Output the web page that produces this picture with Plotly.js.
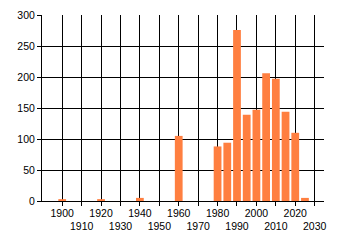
<!DOCTYPE html>
<html>
<head>
<meta charset="utf-8">
<script src="https://cdn.plot.ly/plotly-3.0.1.min.js"></script>
<style>html,body{margin:0;padding:0;background:#fff;}#chart{width:340px;height:245px;}</style>
</head>
<body>
<div id="chart"></div>
<script>
const years = [1900, 1920, 1940, 1960, 1980, 1985, 1990, 1995, 2000, 2005, 2010, 2015, 2020, 2025];
const counts = [3, 3, 5, 105, 88, 94, 276, 139, 147, 206, 197, 144, 110, 5];
const tickYears = [1900, 1910, 1920, 1930, 1940, 1950, 1960, 1970, 1980, 1990, 2000, 2010, 2020, 2030];
const yTicks = [0, 50, 100, 150, 200, 250, 300];

// upper row: 1900, 1920, ... ; lower row: 1910, 1930, ...
const upperText = tickYears.map((y, i) => (i % 2 === 0 ? String(y) : ''));
const lowerVals = tickYears.filter((y, i) => i % 2 === 1);
const lowerText = lowerVals.map(String);

const xRange = [1889.6, 2034.8];

const bars = {
  type: 'bar',
  x: years,
  y: counts,
  width: 4,
  marker: {color: '#FF7F40', line: {width: 0}},
  hoverinfo: 'x+y'
};
const lowerAxisHolder = {type: 'scatter', mode: 'markers', x: [], y: [], xaxis: 'x2', yaxis: 'y', showlegend: false};

const baseX = {
  range: xRange, tickangle: 0, zeroline: false, fixedrange: true,
  tickfont: {family: 'Liberation Sans, Arial, sans-serif', size: 10.5, color: '#000'}
};

const layout = {
  width: 340, height: 245,
  margin: {l: 42, r: 16, t: 15, b: 44, pad: 0},
  paper_bgcolor: '#ffffff', plot_bgcolor: '#ffffff',
  font: {family: 'Liberation Sans, Arial, sans-serif', size: 10.5, color: '#000'},
  showlegend: false,
  xaxis: Object.assign({}, baseX, {
    tickmode: 'array', tickvals: tickYears, ticktext: upperText,
    showgrid: true, gridcolor: '#000', gridwidth: 1,
    ticks: 'outside', ticklen: 4, tickcolor: '#000', tickwidth: 1,
    showline: true, linecolor: '#000', linewidth: 1,
    ticklabelstandoff: -2
  }),
  xaxis2: Object.assign({}, baseX, {
    overlaying: 'x', anchor: 'y', side: 'bottom',
    tickmode: 'array', tickvals: lowerVals, ticktext: lowerText,
    showgrid: false, ticks: '', showline: false,
    ticklabelstandoff: 17
  }),
  yaxis: {
    range: [0, 300],
    tickmode: 'array', tickvals: yTicks,
    showgrid: true, gridcolor: '#000', gridwidth: 1,
    ticks: 'outside', ticklen: 4, tickcolor: '#000', tickwidth: 1,
    showline: true, linecolor: '#000', linewidth: 1,
    zeroline: false, fixedrange: true
  }
};

Plotly.newPlot('chart', [bars, lowerAxisHolder], layout, {displayModeBar: false, staticPlot: true});
</script>
</body>
</html>
